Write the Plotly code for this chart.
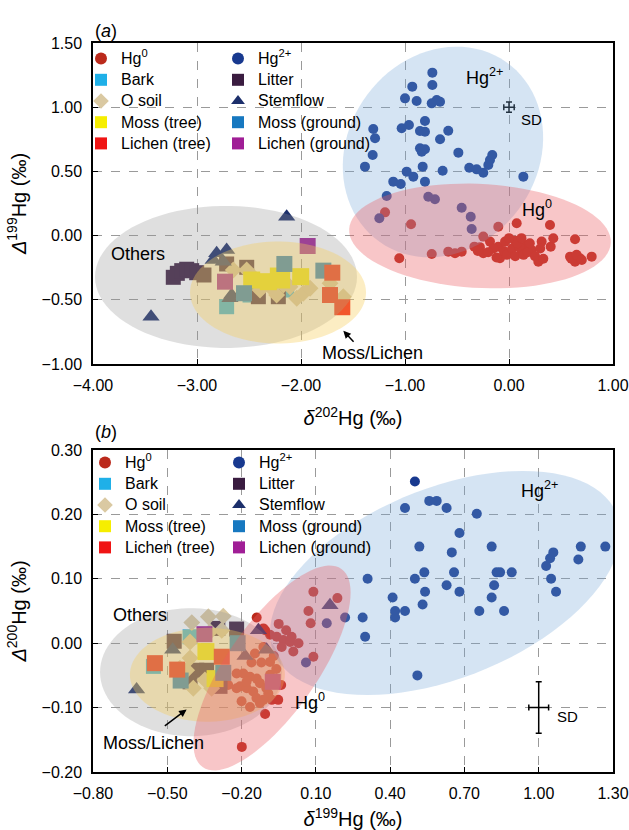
import numpy as np
import plotly.graph_objects as go

FONT = "Liberation Sans, Arial, Helvetica, sans-serif"

# ---------------- categories ----------------
cat_names = ["Hg<sup>0</sup>", "Hg<sup>2+</sup>", "Bark", "Litter", "O soil", "Stemflow",
             "Moss (tree)", "Moss (ground)", "Lichen (tree)", "Lichen (ground)"]
cat_colors = ["#bb2a1c", "#18398f", "#1fb0e8", "#3a1c40", "#dac9a2", "#1c2f6b",
              "#f6ee00", "#1778c0", "#f01414", "#a01e96"]
cat_symbols = ["circle", "circle", "square", "square", "diamond", "triangle-up",
               "square", "square", "square", "square"]
cat_sizes = [10, 10, 15, 15, 13, 15, 17, 16, 16, 16]

# ---------------- panel (a): d202Hg vs D199Hg ----------------
a_hg0_x = [-1.192, -0.942, -1.055, -0.743, -0.584, -0.519, -0.455, -0.333, -0.247, -0.247, -0.183,
           -0.103, -0.103, -0.087, -0.038, 0.010, 0.058, 0.074, 0.122, 0.170, 0.218, 0.282, 0.314,
           0.394, 0.401, 0.426, 0.635, 0.587, 0.635, 0.683, 0.795,
           -0.05, -0.02, 0.03, 0.06, 0.10, 0.14, 0.18, 0.25, 0.30, 0.33, -0.15, -0.20, -0.12, 0.08,
           -0.28, 0.20, 0.60, 0.65, 0.70, -0.30, 0.12, 0.00]
a_hg0_y = [0.181, 0.088, -0.177, -0.143, -0.125, -0.138, -0.125, -0.086, -0.008, -0.138, -0.047,
           0.069, -0.086, -0.177, -0.047, -0.138, -0.040, 0.096, -0.125, -0.073, -0.112, -0.203, -0.047,
           0.083, -0.086, -0.021, -0.029, -0.164, -0.203, -0.177, -0.164,
           -0.12, -0.15, -0.10, -0.16, -0.09, -0.15, -0.13, -0.16, -0.10, -0.18, -0.10, -0.13, -0.17, -0.06,
           -0.09, -0.06, -0.18, -0.15, -0.19, -0.12, -0.02, -0.02]
a_hg2_x = [-0.737, -0.737, -0.930, -1.000, -0.888, -0.743, -0.695, -0.663, -0.808, -1.032, -0.962,
           -0.856, -0.808, -0.584, -1.305, -1.288, -0.663, -0.856, -0.808, -0.839, -1.311, -0.487,
           -0.161, -0.183, -0.199, -1.385, -0.830, -0.984, -0.920, -0.638, -0.382, -0.311, -0.247,
           0.138, -1.113, -1.041, -0.808, -1.176, -0.776, -0.712, -0.455, -0.368, -0.359, -1.247]
a_hg2_y = [1.269, 1.173, 1.160, 1.069, 1.048, 1.030, 1.056, 1.043, 0.893, 0.836, 0.861,
           0.815, 0.809, 0.817, 0.830, 0.758, 0.750, 0.680, 0.672, 0.653, 0.628, 0.646,
           0.628, 0.589, 0.550, 0.537, 0.537, 0.498, 0.459, 0.505, 0.529, 0.516, 0.490,
           0.459, 0.420, 0.402, 0.420, 0.308, 0.303, 0.283, 0.217, 0.147, 0.051, 0.135]
a_bark_x = [-2.715, -2.138, -2.490]
a_bark_y = [-0.554, -0.424, -0.463]
a_litter_x = [-3.228, -3.189, -3.147, -3.099, -3.051, -3.003, -2.933, -2.218, -2.410, -2.522, -2.715]
a_litter_y = [-0.325, -0.294, -0.273, -0.262, -0.273, -0.289, -0.307, -0.476, -0.476, -0.247, -0.221]
a_osoil_x = [-2.651, -2.522, -2.459, -2.394, -2.298, -2.170, -2.106, -2.041, -1.978, -1.913, -1.721,
             -1.593, -2.234]
a_osoil_y = [-0.268, -0.268, -0.320, -0.424, -0.398, -0.385, -0.398, -0.488, -0.449, -0.410, -0.372,
             -0.476, -0.463]
a_stem_x = [-2.138, -3.442, -2.811, -2.715, -2.844, -2.748, -2.683, -2.667]
a_stem_y = [0.147, -0.632, -0.138, -0.112, -0.190, -0.203, -0.488, -0.463]
a_mosst_x = [-2.474, -2.314, -2.218, -2.186, -2.003]
a_mosst_y = [-0.346, -0.359, -0.315, -0.346, -0.320]
a_mossg_x = [-2.160, -2.548, -1.785]
a_mossg_y = [-0.221, -0.449, -0.273]
a_licht_x = [-1.699, -1.721, -1.603]
a_licht_y = [-0.289, -0.463, -0.558]
a_lichg_x = [-1.936, -2.731]
a_lichg_y = [-0.081, -0.359]

# ---------------- panel (b): D199Hg vs D200Hg ----------------
b_hg0_x = [0.090, 0.187, 0.070, 0.079, -0.139, -0.105, -0.085, -0.058, -0.031, -0.004, -0.038, 0.009,
           0.090, -0.112, -0.146, -0.085, -0.193, -0.166, -0.139, -0.206, -0.179, -0.220, -0.126,
           -0.153, -0.085, -0.092, -0.078, -0.052, -0.112, -0.126, -0.166, -0.105, -0.199, -0.220,
           -0.254, 0.002, -0.112,
           -0.05, -0.02, 0.03, -0.07, -0.12, -0.16, -0.18, -0.10, -0.14, -0.20, -0.06, -0.04]
b_hg0_y = [0.080, 0.070, 0.050, 0.031, 0.040, 0.020, 0.013, 0.010, 0.005, 0.002, -0.006, -0.013,
           -0.021, -0.006, -0.016, -0.029, -0.047, -0.052, -0.055, -0.067, -0.070, -0.070, -0.062,
           -0.075, -0.049, -0.078, -0.088, -0.088, -0.088, -0.093, -0.099, -0.110, -0.161, -0.047,
           -0.065, 0.010, 0.023,
           0.030, 0.020, 0.000, -0.020, -0.030, -0.030, -0.060, -0.070, -0.085, -0.090, -0.040, -0.065]
b_hg2_x = [0.500, 0.460, 0.558, 0.588, 0.628, 0.750, 0.680, 0.518, 0.649, 0.810, 1.059, 1.046,
           1.030, 1.170, 1.160, 1.269, 0.538, 0.500, 0.658, 0.830, 0.844, 0.891, 1.050, 1.070,
           0.309, 0.541, 0.628, 0.680, 0.820, 0.410, 0.531, 0.810, 0.420, 0.460, 0.420, 0.760,
           0.860, 0.289, 0.299, 0.510, 0.218, 0.144, 0.060]
b_hg2_y = [0.251, 0.210, 0.221, 0.221, 0.210, 0.201, 0.171, 0.150, 0.141, 0.150, 0.141, 0.132,
           0.120, 0.150, 0.130, 0.150, 0.110, 0.100, 0.110, 0.110, 0.110, 0.110, 0.100, 0.080,
           0.100, 0.080, 0.090, 0.080, 0.090, 0.071, 0.060, 0.071, 0.050, 0.050, 0.040, 0.050,
           0.050, 0.040, 0.010, -0.050, 0.040, 0.031, -0.030]
b_bark_x = [-0.408, -0.556, -0.415]
b_bark_y = [0.010, -0.036, -0.049]
b_litter_x = [-0.220, -0.472, -0.381, -0.341, -0.408, -0.287, -0.296]
b_litter_y = [0.022, 0.003, -0.042, -0.042, -0.060, -0.067, 0.023]
b_osoil_x = [-0.334, -0.274, -0.401, -0.280, -0.408, -0.408, -0.422, -0.395, -0.321, -0.449, -0.348, -0.327]
b_osoil_y = [0.041, 0.042, 0.032, 0.020, 0.002, -0.023, -0.042, -0.070, -0.070, -0.039, -0.057, 0.018]
b_stem_x = [0.157, -0.132, -0.099, -0.186, -0.478, -0.624]
b_stem_y = [0.059, 0.020, -0.010, -0.020, -0.010, -0.072]
b_mosst_x = [-0.344, -0.307]
b_mosst_y = [-0.013, -0.055]
b_mossg_x = [-0.216, -0.446, -0.274]
b_mossg_y = [0.000, -0.058, -0.046]
b_licht_x = [-0.550, -0.460, -0.280]
b_licht_y = [-0.031, -0.041, -0.021]
b_lichg_x = [-0.350, -0.074]
b_lichg_y = [0.014, -0.060]

# SD crosses
a_sd = dict(x=0.0, y=1.0, ex=0.05, ey=0.04)
b_sd = dict(x=1.0, y=-0.10, ex=0.04, ey=0.04)

# axis ticks
a_xticks = [-4.0, -3.0, -2.0, -1.0, 0.0, 1.0]
a_yticks = [-1.0, -0.5, 0.0, 0.5, 1.0, 1.5]
b_xticks = [-0.8, -0.5, -0.2, 0.1, 0.4, 0.7, 1.0, 1.3]
b_yticks = [-0.2, -0.1, 0.0, 0.1, 0.2, 0.3]

a_sets = [(a_hg0_x, a_hg0_y), (a_hg2_x, a_hg2_y), (a_bark_x, a_bark_y), (a_litter_x, a_litter_y),
          (a_osoil_x, a_osoil_y), (a_stem_x, a_stem_y), (a_mosst_x, a_mosst_y), (a_mossg_x, a_mossg_y),
          (a_licht_x, a_licht_y), (a_lichg_x, a_lichg_y)]
b_sets = [(b_hg0_x, b_hg0_y), (b_hg2_x, b_hg2_y), (b_bark_x, b_bark_y), (b_litter_x, b_litter_y),
          (b_osoil_x, b_osoil_y), (b_stem_x, b_stem_y), (b_mosst_x, b_mosst_y), (b_mossg_x, b_mossg_y),
          (b_licht_x, b_licht_y), (b_lichg_x, b_lichg_y)]

# ---------------- layout geometry ----------------
W, H = 629, 830
ML, MR, MT, MB = 93, 16, 43, 58
PW, PH = W - ML - MR, H - MT - MB
a_dom = [0.5597, 1.0]
b_dom = [0.0, 0.4417]
a_xr, a_yr = [-4.0, 1.0], [-1.0, 1.5]
b_xr, b_yr = [-0.8, 1.3], [-0.2, 0.3]

a_sx = PW / (a_xr[1] - a_xr[0])
a_sy = PH * (a_dom[1] - a_dom[0]) / (a_yr[1] - a_yr[0])
b_sx = PW / (b_xr[1] - b_xr[0])
b_sy = PH * (b_dom[1] - b_dom[0]) / (b_yr[1] - b_yr[0])


def ellipse_path(cx, cy, a_px, b_px, ang, sx, sy, n=90):
    t = np.linspace(0, 2 * np.pi, n, endpoint=False)
    th = np.radians(ang)
    dx = a_px * np.cos(t) * np.cos(th) - b_px * np.sin(t) * np.sin(th)
    dy = a_px * np.cos(t) * np.sin(th) + b_px * np.sin(t) * np.cos(th)
    xs = cx + dx / sx
    ys = cy + dy / sy
    return "M " + " L ".join(f"{x:.5f},{y:.5f}" for x, y in zip(xs, ys)) + " Z"


GREY = "rgba(150,150,150,0.30)"
YELL = "rgba(248,205,90,0.36)"
BLUE = "rgba(115,165,215,0.30)"
REDE = "rgba(235,92,98,0.35)"

# (cx, cy, a_px, b_px, angle, color)
a_ellipses = [(-2.721, -0.322, 131, 71, 0, GREY),
              (-2.221, -0.443, 88, 51, 0, YELL),
              (-0.635, 0.651, 110, 95, 55, BLUE),
              (-0.279, -0.003, 131, 52, -3, REDE)]
b_ellipses = [(-0.404, -0.045, 91, 64, 0, GREY),
              (-0.338, -0.049, 77.5, 47, 0, YELL),
              (0.622, 0.0935, 185, 95, 22, BLUE),
              (-0.077, -0.0385, 121, 45, 55, REDE)]

fig = go.Figure()


def leg_name(n):
    return f'<span style="font-size:16px">{n}</span>'


# legend columns: even categories -> left column, odd -> right column
for i, (xs, ys) in enumerate(a_sets):
    fig.add_trace(go.Scatter(x=xs, y=ys, mode="markers", name=leg_name(cat_names[i]),
                             marker=dict(color=cat_colors[i], symbol=cat_symbols[i], size=cat_sizes[i],
                                         line=dict(width=0)),
                             xaxis="x", yaxis="y", legend="legend" if i % 2 == 0 else "legend3"))
for i, (xs, ys) in enumerate(b_sets):
    fig.add_trace(go.Scatter(x=xs, y=ys, mode="markers", name=leg_name(cat_names[i]),
                             marker=dict(color=cat_colors[i], symbol=cat_symbols[i], size=cat_sizes[i],
                                         line=dict(width=0)),
                             xaxis="x2", yaxis="y2", legend="legend2" if i % 2 == 0 else "legend4"))

for sd, xa, ya in [(a_sd, "x", "y"), (b_sd, "x2", "y2")]:
    fig.add_trace(go.Scatter(x=[sd["x"]], y=[sd["y"]], mode="markers", showlegend=False,
                             marker=dict(size=1, color="black"),
                             error_x=dict(type="constant", value=sd["ex"], color="black", thickness=1.5, width=3),
                             error_y=dict(type="constant", value=sd["ey"], color="black", thickness=1.5, width=3),
                             xaxis=xa, yaxis=ya))

shapes = []
for (cx, cy, ap, bp, ang, col) in a_ellipses:
    shapes.append(dict(type="path", path=ellipse_path(cx, cy, ap, bp, ang, a_sx, a_sy),
                       xref="x", yref="y", fillcolor=col, line=dict(width=0), layer="above"))
for (cx, cy, ap, bp, ang, col) in b_ellipses:
    shapes.append(dict(type="path", path=ellipse_path(cx, cy, ap, bp, ang, b_sx, b_sy),
                       xref="x2", yref="y2", fillcolor=col, line=dict(width=0), layer="above"))

ann_font = dict(family=FONT, size=18, color="black")
annotations = [
    dict(text="Others", x=-3.565, y=-0.143, xref="x", yref="y", showarrow=False, font=ann_font),
    dict(text="Moss/Lichen", x=-1.317, y=-0.914, xref="x", yref="y", showarrow=False, font=ann_font),
    dict(text="Hg<sup>2+</sup>", x=-0.231, y=1.238, xref="x", yref="y", showarrow=False, font=ann_font),
    dict(text="Hg<sup>0</sup>", x=0.266, y=0.213, xref="x", yref="y", showarrow=False, font=ann_font),
    dict(text="SD", x=0.218, y=0.908, xref="x", yref="y", showarrow=False,
         font=dict(family=FONT, size=15, color="black")),
    dict(text="", x=-1.593, y=-0.741, ax=-1.481, ay=-0.839, xref="x", yref="y", axref="x", ayref="y",
         showarrow=True, arrowhead=2, arrowsize=1, arrowwidth=1.5, arrowcolor="black"),
    dict(text="Others", x=-0.610, y=0.044, xref="x2", yref="y2", showarrow=False, font=ann_font),
    dict(text="Moss/Lichen", x=-0.556, y=-0.155, xref="x2", yref="y2", showarrow=False, font=ann_font),
    dict(text="Hg<sup>2+</sup>", x=1.005, y=0.238, xref="x2", yref="y2", showarrow=False, font=ann_font),
    dict(text="Hg<sup>0</sup>", x=0.076, y=-0.091, xref="x2", yref="y2", showarrow=False, font=ann_font),
    dict(text="SD", x=1.116, y=-0.114, xref="x2", yref="y2", showarrow=False,
         font=dict(family=FONT, size=15, color="black")),
    dict(text="", x=-0.422, y=-0.103, ax=-0.516, ay=-0.130, xref="x2", yref="y2", axref="x2", ayref="y2",
         showarrow=True, arrowhead=2, arrowsize=1, arrowwidth=1.5, arrowcolor="black"),
    dict(text="(<i>a</i>)", x=0.0, y=(H - MB - 31) / PH, xref="paper", yref="paper", xanchor="left",
         yanchor="middle", showarrow=False, font=ann_font),
    dict(text="(<i>b</i>)", x=0.0, y=(H - MB - 432) / PH, xref="paper", yref="paper", xanchor="left",
         yanchor="middle", showarrow=False, font=ann_font),
]

tick_font = dict(family=FONT, size=16, color="black")
title_font = dict(family=FONT, size=20, color="black")


def axis_common(rng, ticks):
    return dict(range=rng, tickvals=ticks, tickformat=".2f", ticks="inside", ticklen=5, tickwidth=1.2,
                tickcolor="black", showline=True, linecolor="black", linewidth=1.5, mirror=True,
                showgrid=True, gridcolor="#9a9a9a", gridwidth=0.8, griddash="dash", zeroline=False,
                tickfont=tick_font, ticklabelstandoff=6)


xa = axis_common(a_xr, a_xticks)
xa.update(domain=[0, 1], anchor="y",
          title=dict(text="<i>δ</i><sup>202</sup>Hg (‰)", font=title_font, standoff=18))
ya = axis_common(a_yr, a_yticks)
ya.update(domain=a_dom, anchor="x",
          title=dict(text="<i>Δ</i><sup>199</sup>Hg (‰)", font=title_font, standoff=10))
xb = axis_common(b_xr, b_xticks)
xb.update(domain=[0, 1], anchor="y2",
          title=dict(text="<i>δ</i><sup>199</sup>Hg (‰)", font=title_font, standoff=18))
yb = axis_common(b_yr, b_yticks)
yb.update(domain=b_dom, anchor="x2",
          title=dict(text="<i>Δ</i><sup>200</sup>Hg (‰)", font=title_font, standoff=10))

leg_common = dict(orientation="v", xanchor="left", yanchor="top", bgcolor="rgba(0,0,0,0)",
                  font=dict(family=FONT, size=14, color="black"),
                  itemsizing="constant", traceorder="normal")


def px_to_px(x_pix):
    return (x_pix - ML) / PW


def py_to_py(y_pix):
    return (H - MB - y_pix) / PH


# legend boxes: symbol centre sits 20 px right of the box edge
leg_a = dict(leg_common, x=px_to_px(101 - 20), y=1.0)
leg_a2 = dict(leg_common, x=px_to_px(238 - 20), y=1.0)
leg_b = dict(leg_common, x=px_to_px(105 - 20), y=py_to_py(447))
leg_b2 = dict(leg_common, x=px_to_px(239 - 20), y=py_to_py(447))

fig.update_layout(width=W, height=H, margin=dict(l=ML, r=MR, t=MT, b=MB, autoexpand=False),
                  paper_bgcolor="white", plot_bgcolor="white",
                  xaxis=xa, yaxis=ya, xaxis2=xb, yaxis2=yb,
                  legend=leg_a, legend2=leg_b, legend3=leg_a2, legend4=leg_b2,
                  shapes=shapes, annotations=annotations,
                  font=dict(family=FONT, color="black"))

fig.write_html("out.html", config={"displayModeBar": False},
               post_script="document.body.style.margin='0px';")
